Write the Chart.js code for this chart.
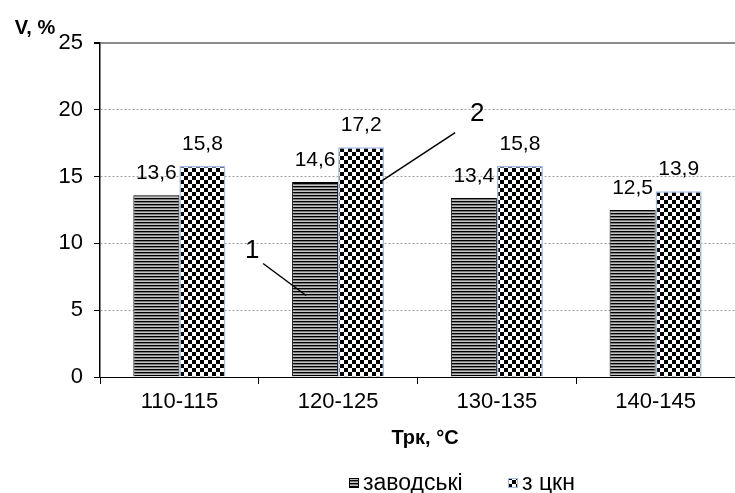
<!DOCTYPE html>
<html><head><meta charset="utf-8">
<script src="https://cdn.jsdelivr.net/npm/chart.js@4/dist/chart.umd.min.js"></script>
<style>html,body{margin:0;padding:0;background:#fff}#wrap{width:735px;height:493px}</style>
</head><body><div id="wrap"><canvas id="c" width="735" height="493"></canvas></div>
<script>
const categories = ['110-115', '120-125', '130-135', '140-145'];
const seriesNames = ['заводські', 'з цкн'];
const factoryValues = [13.6, 14.6, 13.4, 12.5];
const ckValues = [15.8, 17.2, 15.8, 13.9];
const yTicks = [0, 5, 10, 15, 20, 25];
const yTitle = 'V, %';
const xTitle = 'Трк, °С';
const calloutLabels = ['1', '2'];

const FONT = '"Liberation Sans", Arial, sans-serif';

function stripePattern() {
  const c = document.createElement('canvas'); c.width = 4; c.height = 3;
  const x = c.getContext('2d');
  x.fillStyle = '#000'; x.fillRect(0,0,4,1);
  x.fillStyle = '#7a7a7a'; x.fillRect(0,1,4,1);
  x.fillStyle = '#c4c4c4'; x.fillRect(0,2,4,1);
  return x.createPattern(c, 'repeat');
}
function checkerPattern() {
  const c = document.createElement('canvas'); c.width = 8; c.height = 8;
  const x = c.getContext('2d');
  x.fillStyle = '#fff'; x.fillRect(0,0,8,8);
  x.fillStyle = '#000'; x.fillRect(0,0,4,4); x.fillRect(4,4,4,4);
  return x.createPattern(c, 'repeat');
}
const pat1 = stripePattern();
const pat2 = checkerPattern();

const fmt = v => v.toFixed(1).replace('.', ',');

const overlay = {
  id: 'overlay',
  afterDatasetsDraw(chart) {
    const ctx = chart.ctx;
    const ys = chart.scales.y;
    ctx.save();
    // value labels
    ctx.font = '21px ' + FONT;
    ctx.fillStyle = '#000';
    ctx.textAlign = 'center';
    ctx.textBaseline = 'middle';
    chart.data.datasets.forEach((ds, di) => {
      chart.getDatasetMeta(di).data.forEach((bar, i) => {
        ctx.fillText(fmt(ds.data[i]), bar.x, bar.y - 22);
      });
    });
    // callouts
    const b1 = chart.getDatasetMeta(0).data[1];
    const b2 = chart.getDatasetMeta(1).data[1];
    ctx.strokeStyle = '#000'; ctx.lineWidth = 1.5;
    const e1 = {x: b1.x - 9, y: ys.getPixelForValue(6.1)};
    const s1 = {x: e1.x - 43, y: e1.y - 32};
    const e2 = {x: b2.x + 21, y: ys.getPixelForValue(14.7)};
    const s2 = {x: e2.x + 73, y: e2.y - 48};
    ctx.beginPath(); ctx.moveTo(s1.x, s1.y); ctx.lineTo(e1.x, e1.y); ctx.stroke();
    ctx.beginPath(); ctx.moveTo(s2.x, s2.y); ctx.lineTo(e2.x, e2.y); ctx.stroke();
    ctx.font = '26px ' + FONT;
    ctx.fillText(calloutLabels[0], s1.x - 11, s1.y - 13);
    ctx.fillText(calloutLabels[1], s2.x + 22, s2.y - 19);
    // titles
    ctx.font = 'bold 20px ' + FONT;
    ctx.fillText(yTitle, 35, 28);
    ctx.fillText(xTitle, 425, 438);
    // legend
    ctx.font = '23px ' + FONT;
    ctx.textAlign = 'left';
    const items = [{p: pat1, b: '#000', x: 349}, {p: pat2, b: '#9fbbe3', x: 508}];
    items.forEach((it, i) => {
      ctx.fillStyle = it.p;
      ctx.fillRect(it.x, 478, 10, 10);
      ctx.strokeStyle = it.b; ctx.lineWidth = 1;
      ctx.strokeRect(it.x + 0.5, 478.5, 9, 9);
      ctx.fillStyle = '#000';
      ctx.fillText(seriesNames[i], it.x + 14, 484);
    });
    ctx.restore();
  }
};

new Chart(document.getElementById('c'), {
  type: 'bar',
  data: {
    labels: categories,
    datasets: [
      {label: seriesNames[0], data: factoryValues, backgroundColor: pat1, borderColor: '#000', borderWidth: 1, borderSkipped: 'bottom'},
      {label: seriesNames[1], data: ckValues, backgroundColor: pat2, borderColor: '#9fbbe3', borderWidth: 1.5, borderSkipped: 'bottom'}
    ]
  },
  options: {
    responsive: false,
    animation: false,
    devicePixelRatio: 1,
    layout: {padding: {top: 43, right: 0, bottom: 46, left: 0}},
    datasets: {bar: {categoryPercentage: 0.58, barPercentage: 1.0}},
    plugins: {legend: {display: false}, tooltip: {enabled: false}},
    scales: {
      x: {
        grid: {offset: true, drawOnChartArea: false, drawTicks: true, tickLength: 7, color: '#000'},
        border: {color: '#000', width: 1},
        ticks: {font: {family: FONT, size: 22}, color: '#000', padding: 5},
        afterFit(s) { s.height = 70; }
      },
      y: {
        min: 0, max: 25,
        afterBuildTicks(s) { s.ticks = yTicks.map(v => ({value: v})); },
        grid: {
          color: c => c.tick && c.tick.value === 25 ? '#8c8c8c' : (c.tick && c.tick.value === 0 ? 'rgba(0,0,0,0)' : '#a0a0a0'),
          lineWidth: c => c.tick && c.tick.value === 25 ? 2 : 1,
          tickColor: '#000', tickLength: 6, drawTicks: true
        },
        border: {color: '#000', width: 1.5, dash: c => c.tick && c.tick.value === 25 ? [] : [2, 2]},
        ticks: {font: {family: FONT, size: 22}, color: '#000', padding: 11},
        afterFit(s) { s.width = 100; }
      }
    }
  },
  plugins: [overlay]
});
</script></body></html>
